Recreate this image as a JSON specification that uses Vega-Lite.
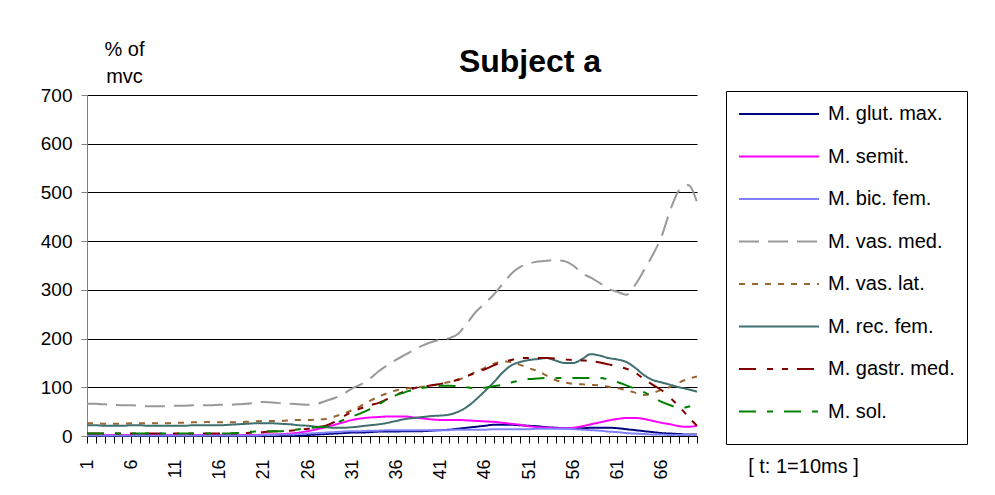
{
  "$schema": "https://vega.github.io/schema/vega-lite/v6.json",
  "width": 610,
  "height": 341,
  "autosize": {"type": "none"},
  "padding": {"left": 87, "top": 95, "right": 298, "bottom": 59},
  "background": "white",
  "title": {
    "text": "Subject a",
    "font": "Liberation Sans",
    "fontSize": 32,
    "fontWeight": "bold",
    "color": "black",
    "anchor": "middle",
    "frame": "group",
    "dx": 138,
    "baseline": "alphabetic",
    "offset": -65
  },
  "data": {
    "values": [
      {"t":1,"g":1,"s":2,"b":1,"vm":66,"vl":26,"r":22,"ga":5,"so":5},
      {"t":2,"g":1,"s":2,"b":1,"vm":66,"vl":26,"r":22,"ga":5,"so":5},
      {"t":3,"g":1,"s":2,"b":1,"vm":65,"vl":25,"r":21,"ga":5,"so":5},
      {"t":4,"g":1,"s":2,"b":1,"vm":64,"vl":25,"r":21,"ga":5,"so":5},
      {"t":5,"g":1,"s":2,"b":1,"vm":63,"vl":25,"r":21,"ga":5,"so":5},
      {"t":6,"g":1,"s":2,"b":1,"vm":63,"vl":26,"r":22,"ga":5,"so":5},
      {"t":7,"g":1,"s":2,"b":1,"vm":62,"vl":26,"r":22,"ga":5,"so":5},
      {"t":8,"g":1,"s":2,"b":1,"vm":61,"vl":26,"r":21,"ga":5,"so":5},
      {"t":9,"g":1,"s":2,"b":1,"vm":61,"vl":26,"r":21,"ga":5,"so":5},
      {"t":10,"g":1,"s":2,"b":1,"vm":61,"vl":26,"r":21,"ga":5,"so":5},
      {"t":11,"g":1,"s":2,"b":1,"vm":62,"vl":27,"r":21,"ga":5,"so":5},
      {"t":12,"g":1,"s":2,"b":1,"vm":62,"vl":27,"r":21,"ga":5,"so":5},
      {"t":13,"g":1,"s":2,"b":1,"vm":63,"vl":28,"r":22,"ga":5,"so":5},
      {"t":14,"g":1,"s":2,"b":1,"vm":63,"vl":28,"r":22,"ga":5,"so":5},
      {"t":15,"g":1,"s":2,"b":1,"vm":63,"vl":29,"r":22,"ga":5,"so":5},
      {"t":16,"g":1,"s":2,"b":1,"vm":64,"vl":28,"r":22,"ga":5,"so":5},
      {"t":17,"g":1,"s":2,"b":1,"vm":64,"vl":28,"r":23,"ga":5,"so":5},
      {"t":18,"g":1,"s":2,"b":1,"vm":65,"vl":28,"r":24,"ga":5,"so":6},
      {"t":19,"g":1,"s":2,"b":1,"vm":66,"vl":29,"r":25,"ga":6,"so":8},
      {"t":20,"g":1,"s":2,"b":1,"vm":68,"vl":30,"r":26,"ga":7,"so":9},
      {"t":21,"g":1,"s":3,"b":2,"vm":70,"vl":31,"r":26,"ga":8,"so":10},
      {"t":22,"g":1,"s":3,"b":2,"vm":69,"vl":31,"r":26,"ga":9,"so":10},
      {"t":23,"g":1,"s":4,"b":3,"vm":67,"vl":31,"r":25,"ga":10,"so":10},
      {"t":24,"g":1,"s":5,"b":3,"vm":66,"vl":32,"r":24,"ga":11,"so":11},
      {"t":25,"g":1,"s":7,"b":4,"vm":65,"vl":33,"r":22,"ga":13,"so":14},
      {"t":26,"g":2,"s":10,"b":5,"vm":64,"vl":33,"r":21,"ga":15,"so":16},
      {"t":27,"g":3,"s":14,"b":6,"vm":66,"vl":34,"r":19,"ga":18,"so":18},
      {"t":28,"g":4,"s":18,"b":7,"vm":72,"vl":35,"r":18,"ga":21,"so":19},
      {"t":29,"g":5,"s":23,"b":8,"vm":78,"vl":40,"r":17,"ga":29,"so":25},
      {"t":30,"g":6,"s":28,"b":9,"vm":86,"vl":46,"r":17,"ga":40,"so":33},
      {"t":31,"g":7,"s":33,"b":10,"vm":98,"vl":53,"r":18,"ga":50,"so":40},
      {"t":32,"g":7,"s":36,"b":10,"vm":106,"vl":62,"r":20,"ga":57,"so":47},
      {"t":33,"g":8,"s":38,"b":11,"vm":118,"vl":72,"r":22,"ga":63,"so":55},
      {"t":34,"g":9,"s":39,"b":11,"vm":133,"vl":81,"r":24,"ga":68,"so":65},
      {"t":35,"g":9,"s":40,"b":12,"vm":146,"vl":88,"r":27,"ga":76,"so":76},
      {"t":36,"g":9,"s":40,"b":12,"vm":157,"vl":94,"r":31,"ga":85,"so":84},
      {"t":37,"g":10,"s":40,"b":12,"vm":167,"vl":97,"r":35,"ga":92,"so":90},
      {"t":38,"g":10,"s":38,"b":12,"vm":177,"vl":99,"r":37,"ga":98,"so":96},
      {"t":39,"g":10,"s":36,"b":12,"vm":186,"vl":101,"r":39,"ga":101,"so":99},
      {"t":40,"g":11,"s":34,"b":12,"vm":193,"vl":104,"r":41,"ga":104,"so":101},
      {"t":41,"g":12,"s":33,"b":12,"vm":198,"vl":107,"r":42,"ga":107,"so":103},
      {"t":42,"g":13,"s":33,"b":12,"vm":201,"vl":111,"r":44,"ga":110,"so":103},
      {"t":43,"g":15,"s":33,"b":13,"vm":210,"vl":115,"r":50,"ga":116,"so":102},
      {"t":44,"g":17,"s":32,"b":13,"vm":232,"vl":123,"r":60,"ga":123,"so":100},
      {"t":45,"g":19,"s":31,"b":13,"vm":255,"vl":132,"r":75,"ga":130,"so":98},
      {"t":46,"g":21,"s":30,"b":13,"vm":272,"vl":140,"r":92,"ga":137,"so":99},
      {"t":47,"g":23,"s":29,"b":14,"vm":290,"vl":148,"r":110,"ga":145,"so":102},
      {"t":48,"g":23,"s":27,"b":14,"vm":312,"vl":153,"r":130,"ga":152,"so":105},
      {"t":49,"g":23,"s":25,"b":14,"vm":333,"vl":152,"r":145,"ga":156,"so":110},
      {"t":50,"g":22,"s":23,"b":14,"vm":347,"vl":146,"r":152,"ga":160,"so":114},
      {"t":51,"g":21,"s":20,"b":14,"vm":354,"vl":139,"r":156,"ga":160,"so":117},
      {"t":52,"g":20,"s":18,"b":15,"vm":358,"vl":133,"r":158,"ga":160,"so":118},
      {"t":53,"g":18,"s":17,"b":15,"vm":360,"vl":124,"r":160,"ga":160,"so":119},
      {"t":54,"g":17,"s":16,"b":15,"vm":361,"vl":115,"r":155,"ga":159,"so":119},
      {"t":55,"g":16,"s":16,"b":15,"vm":359,"vl":110,"r":150,"ga":157,"so":119},
      {"t":56,"g":16,"s":17,"b":14,"vm":350,"vl":107,"r":150,"ga":156,"so":119},
      {"t":57,"g":16,"s":20,"b":13,"vm":334,"vl":106,"r":158,"ga":155,"so":119},
      {"t":58,"g":17,"s":24,"b":12,"vm":325,"vl":105,"r":168,"ga":154,"so":119},
      {"t":59,"g":17,"s":28,"b":11,"vm":314,"vl":104,"r":165,"ga":151,"so":119},
      {"t":60,"g":17,"s":32,"b":9,"vm":302,"vl":101,"r":160,"ga":147,"so":116},
      {"t":61,"g":16,"s":35,"b":8,"vm":296,"vl":98,"r":157,"ga":143,"so":111},
      {"t":62,"g":14,"s":37,"b":6,"vm":290,"vl":94,"r":152,"ga":138,"so":104},
      {"t":63,"g":12,"s":37,"b":5,"vm":310,"vl":89,"r":140,"ga":130,"so":97},
      {"t":64,"g":10,"s":35,"b":4,"vm":340,"vl":84,"r":125,"ga":117,"so":90},
      {"t":65,"g":8,"s":31,"b":3,"vm":372,"vl":88,"r":115,"ga":105,"so":80},
      {"t":66,"g":6,"s":27,"b":3,"vm":410,"vl":95,"r":110,"ga":94,"so":70},
      {"t":67,"g":5,"s":24,"b":2,"vm":465,"vl":101,"r":105,"ga":78,"so":63},
      {"t":68,"g":4,"s":20,"b":2,"vm":505,"vl":110,"r":100,"ga":60,"so":57},
      {"t":69,"g":3,"s":19,"b":2,"vm":515,"vl":117,"r":96,"ga":40,"so":60},
      {"t":70,"g":3,"s":21,"b":2,"vm":480,"vl":122,"r":91,"ga":21,"so":66}
    ]
  },
  "transform": [
    {"fold": ["g", "s", "b", "vm", "vl", "r", "ga", "so"], "as": ["m", "v"]}
  ],
  "mark": {"type": "line", "interpolate": "monotone"},
  "encoding": {
    "x": {
      "field": "t",
      "type": "quantitative",
      "scale": {"domain": [1, 70], "nice": false, "zero": false},
      "axis": {
        "values": [1,2,3,4,5,6,7,8,9,10,11,12,13,14,15,16,17,18,19,20,21,22,23,24,25,26,27,28,29,30,31,32,33,34,35,36,37,38,39,40,41,42,43,44,45,46,47,48,49,50,51,52,53,54,55,56,57,58,59,60,61,62,63,64,65,66,67,68,69,70],
        "labelExpr": "datum.value % 5 == 1 ? datum.label : ''",
        "labelAngle": -90,
        "labelAlign": "right",
        "labelBaseline": "middle",
        "labelFont": "Liberation Sans",
        "labelFontSize": 18,
        "labelColor": "black",
        "labelPadding": 16,
        "labelOverlap": false,
        "labelFlush": false,
        "grid": false,
        "tickSize": 7,
        "tickColor": "black",
        "domainColor": "black",
        "title": "[ t: 1=10ms ]",
        "titleFont": "Liberation Sans",
        "titleFontSize": 20,
        "titleFontWeight": "normal",
        "titleColor": "black",
        "titleAnchor": "start",
        "titleAlign": "center",
        "titleBaseline": "alphabetic",
        "titleX": 716,
        "titleY": 36
      }
    },
    "y": {
      "field": "v",
      "type": "quantitative",
      "scale": {"domain": [0, 700], "nice": false},
      "axis": {
        "values": [0,100,200,300,400,500,600,700],
        "labelFont": "Liberation Sans",
        "labelFontSize": 19,
        "labelColor": "black",
        "labelPadding": 9,
        "tickSize": 6,
        "tickColor": "#808080",
        "domainColor": "#808080",
        "gridColor": "black",
        "gridWidth": 1,
        "title": ["% of", "mvc"],
        "titleFont": "Liberation Sans",
        "titleFontSize": 20,
        "titleFontWeight": "normal",
        "titleColor": "black",
        "titleAngle": 0,
        "titleAlign": "center",
        "titleBaseline": "alphabetic",
        "titleLineHeight": 27,
        "titleX": 37,
        "titleY": -40
      }
    },
    "color": {
      "field": "m",
      "type": "nominal",
      "scale": {
        "domain": ["g", "s", "b", "vm", "vl", "r", "ga", "so"],
        "range": ["#000080", "#FF00FF", "#8080FF", "#999999", "#996633", "#3F6F6F", "#800000", "#008000"]
      },
      "legend": {
        "title": " ",
        "titleOrient": "bottom",
        "titleFontSize": 6,
        "titlePadding": 4,
        "orient": "none",
        "legendX": 639,
        "legendY": -4,
        "labelExpr": "datum.value == 'g' ? 'M. glut. max.' : datum.value == 's' ? 'M. semit.' : datum.value == 'b' ? 'M. bic. fem.' : datum.value == 'vm' ? 'M. vas. med.' : datum.value == 'vl' ? 'M. vas. lat.' : datum.value == 'r' ? 'M. rec. fem.' : datum.value == 'ga' ? 'M. gastr. med.' : 'M. sol.'",
        "labelFont": "Liberation Sans",
        "labelFontSize": 20,
        "labelColor": "black",
        "labelOffset": 68,
        "symbolType": "M-1,0H7",
        "symbolSize": 400,
        "rowPadding": 21.5,
        "strokeColor": "black",
        "fillColor": "white",
        "padding": 12
      }
    },
    "strokeDash": {
      "field": "m",
      "type": "nominal",
      "scale": {
        "domain": ["g", "s", "b", "vm", "vl", "r", "ga", "so"],
        "range": [[1, 0], [1, 0], [1, 0], [20, 9], [6, 7], [1, 0], [17, 11, 6, 9, 6, 9], [17, 11, 6, 11]]
      }
    },
    "strokeWidth": {
      "field": "m",
      "type": "nominal",
      "scale": {
        "domain": ["g", "s", "b", "vm", "vl", "r", "ga", "so"],
        "range": [2, 2, 4, 3, 3, 2.5, 3, 3]
      }
    }
  },
  "config": {
    "view": {"stroke": null}
  }
}
